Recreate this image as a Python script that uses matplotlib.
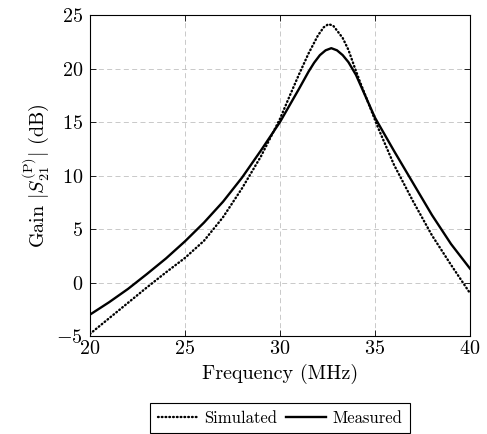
import matplotlib
matplotlib.use("Agg")
import matplotlib.pyplot as plt
import numpy as np

plt.rcParams['font.family'] = 'cmr10'
plt.rcParams['mathtext.fontset'] = 'cm'
plt.rcParams['axes.formatter.use_mathtext'] = True
plt.rcParams['font.size'] = 14.5

# measured gain (dB) vs frequency (MHz)
freq_meas = [20, 21, 22, 23, 24, 25, 26, 27, 28, 29, 30, 30.5, 31, 31.5,
             31.8, 32.1, 32.4, 32.7, 33, 33.3, 33.6, 34, 34.5, 35, 36, 37, 38, 39, 40]
gain_meas = [-3.0, -1.85, -0.6, 0.8, 2.25, 3.85, 5.6, 7.55, 9.8, 12.35, 15.0, 16.55, 18.1, 19.7,
             20.55, 21.25, 21.7, 21.9, 21.7, 21.25, 20.6, 19.4, 17.4, 15.4, 12.3, 9.3, 6.3, 3.6, 1.3]

# simulated gain
freq_sim = [20, 21, 22, 23, 24, 25, 26, 27, 28, 29, 30, 30.5, 31, 31.5,
            32, 32.3, 32.55, 32.8, 33, 33.3, 33.6, 33.9, 34.2, 34.6, 35.2, 36, 37,
            38, 39, 40]
gain_sim = [-4.8, -3.35, -1.9, -0.45, 0.95, 2.3, 3.9, 6.1, 8.8, 11.8, 15.3, 17.4, 19.45, 21.4,
            23.1, 23.85, 24.15, 24.0, 23.55, 22.85, 21.75, 20.25, 18.8, 17.0, 14.3, 11.0, 7.6,
            4.4, 1.65, -1.0]

fig = plt.figure(figsize=(4.87, 4.34), dpi=100)
ax = fig.add_axes([0.1848, 0.2258, 0.7803, 0.7396])

ax.plot(freq_sim, gain_sim, color='black', lw=1.7, linestyle=(0, (0.3, 1.3)),
        dash_capstyle='round', label='Simulated')
ax.plot(freq_meas, gain_meas, color='black', lw=1.7, label='Measured')

ax.set_xlim(20, 40)
ax.set_ylim(-5, 25)
ax.set_xticks([20, 25, 30, 35, 40])
ax.set_yticks([-5, 0, 5, 10, 15, 20, 25])
ax.grid(True, color='#c0c0c0', linestyle=(0, (6, 4)), lw=0.6)
ax.tick_params(direction='in', top=True, right=True, length=4, width=0.6)
ax.tick_params(axis='x', pad=3)
ax.tick_params(axis='y', pad=5)
for s in ax.spines.values():
    s.set_linewidth(0.8)

ax.set_xlabel('Frequency (MHz)', labelpad=4)
ax.set_ylabel(r'Gain $|S_{21}^{(\mathrm{P})}|$ (dB)', labelpad=4)

leg = ax.legend(loc='upper center', bbox_to_anchor=(0.5, -0.209), ncol=2, frameon=True,
                fancybox=False, edgecolor='black', framealpha=1, handlelength=2.4,
                columnspacing=0.5, handletextpad=0.4, borderpad=0.45, borderaxespad=0,
                fontsize=12)
leg.get_frame().set_linewidth(0.8)

fig.savefig('out.png', dpi=100)
